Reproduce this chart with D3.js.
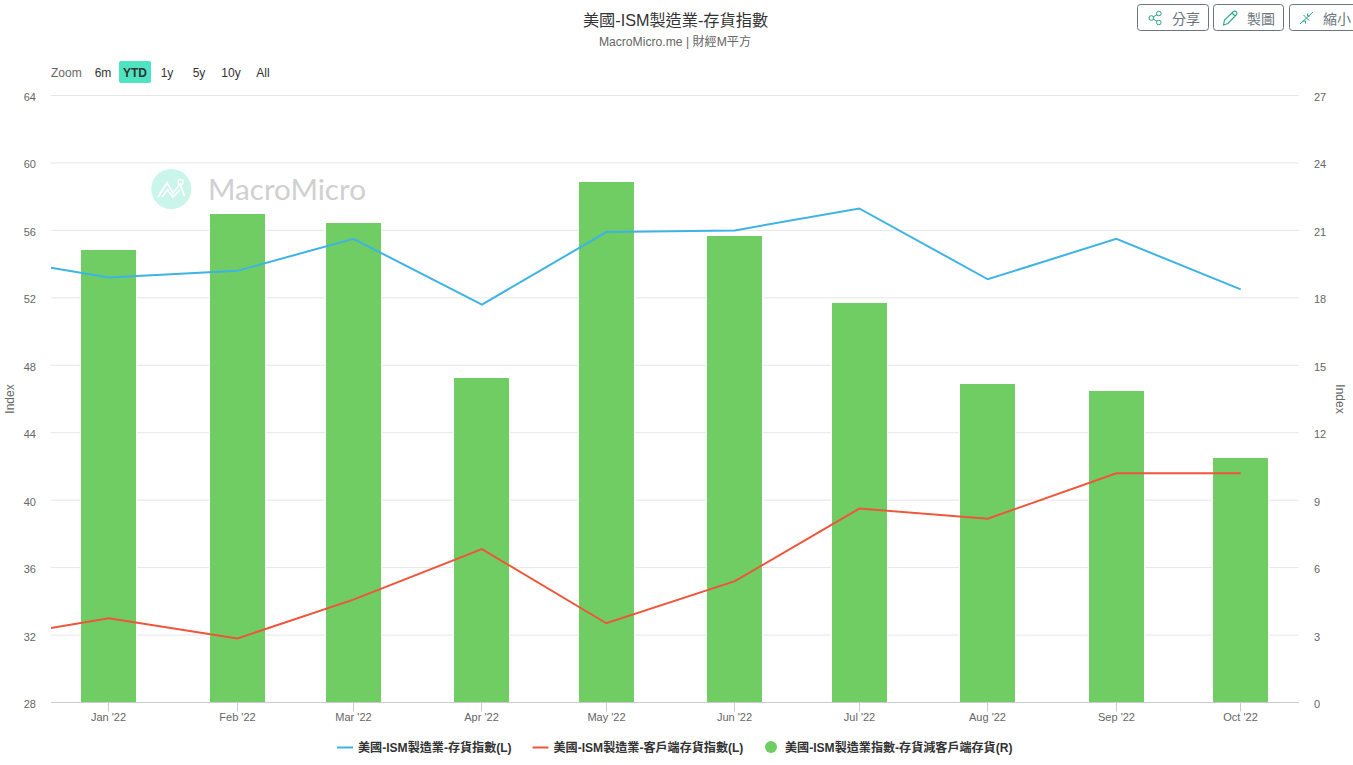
<!DOCTYPE html>
<html><head><meta charset="utf-8">
<script src="https://cdn.jsdelivr.net/npm/d3@7"></script>
<style>
html,body{margin:0;padding:0;background:#fff;overflow:hidden}
svg{display:block}
text{font-family:"Liberation Sans","Noto Sans CJK TC",sans-serif}
</style></head><body><svg id="c" width="1353" height="765"></svg>
<script>
const months = ["2021-12-01","2022-01-01","2022-02-01","2022-03-01","2022-04-01","2022-05-01","2022-06-01","2022-07-01","2022-08-01","2022-09-01","2022-10-01"];
const inventoryIndex = [54.5,53.2,53.6,55.5,51.6,55.9,56.0,57.3,53.1,55.5,52.5];
const customerIndex = [31.7,33.0,31.8,34.1,37.1,32.7,35.2,39.5,38.9,41.6,41.6];
const spread = [null,20.17,21.77,21.37,14.48,23.2,20.8,17.82,14.21,13.9,10.92];
const leftTicks = [28,32,36,40,44,48,52,56,60,64];
const rightTicks = [0,3,6,9,12,15,18,21,24,27];
const zoomLabels = ["6m","YTD","1y","5y","10y","All"];
const seriesNames = ["美國-ISM製造業-存貨指數(L)","美國-ISM製造業-客戶端存貨指數(L)","美國-ISM製造業指數-存貨減客戶端存貨(R)"];
const buttonLabels = ["分享","製圖","縮小"];
const title = "美國-ISM製造業-存貨指數";
const subtitle = "MacroMicro.me | 財經M平方";

const parse = d3.utcParse("%Y-%m-%d");
const dates = months.map(parse);
const svg = d3.select("#c");
const L = 51, R = 1299, T = 95.5, B = 702.5;
const DAY = 864e5;
const x = d3.scaleUtc().domain([new Date(+dates[1] - 13.94 * DAY), new Date(+dates[10] + 14.06 * DAY)]).range([L, R]);
const yL = d3.scaleLinear().domain([28, 64]).range([B, T]);
const yR = d3.scaleLinear().domain([0, 27]).range([B, T]);

// title
svg.append("text").attr("x", 675.5).attr("y", 26).attr("text-anchor", "middle").attr("font-size", 16.2).attr("fill", "#333").text(title);
svg.append("text").attr("x", 675).attr("y", 46).attr("text-anchor", "middle").attr("font-size", 12.15).attr("fill", "#666").text(subtitle);

// top buttons
const btnX = [1137.5, 1213.5, 1289.5], btnW = [71, 70, 71], btnT = [34.5, 33.5, 33.5];
const btn = svg.selectAll("g.btn").data(buttonLabels).join("g").attr("class", "btn")
  .attr("transform", (d, i) => `translate(${btnX[i]},4.5)`);
btn.append("rect").attr("width", (d, i) => btnW[i]).attr("height", 26).attr("rx", 3)
  .attr("fill", "#fff").attr("stroke", "#6c757d");
btn.append("text").attr("x", (d, i) => btnT[i]).attr("y", 19).attr("font-size", 14).attr("fill", "#6c757d").text(d => d);
const iconC = "#2aa58a";
const i0 = svg.append("g").attr("transform", `translate(${btnX[0]},4.5)`).attr("fill", "none").attr("stroke", iconC).attr("stroke-width", 1);
i0.append("path").attr("d", "M14 13.5L21.5 9M14 13.5L21.5 18");
[[13.8,13.5],[21.3,9],[21.3,18]].forEach(p => i0.append("circle").attr("cx", p[0]).attr("cy", p[1]).attr("r", 2.3).attr("fill", "#fff"));
svg.append("g").attr("transform", `translate(${btnX[1]},4.5)`).append("path")
  .attr("d", "M10 20.5L11 15.5L20 7Q21.5 6 23 7.5Q24 9 23 10L14.5 19Z M18.5 8.5L21.5 11.5")
  .attr("fill", "none").attr("stroke", iconC).attr("stroke-width", 1.1);
svg.append("g").attr("transform", `translate(${btnX[2]},4.5)`).append("path")
  .attr("d", "M10.5 19.5L23.5 7.5M14 10.5L19.5 16M13 16.5L16 16.5L16 19M18 9L18 11.5L20.5 11.5")
  .attr("fill", "none").attr("stroke", iconC).attr("stroke-width", 1);

// zoom selector
svg.append("text").attr("x", 51).attr("y", 77).attr("font-size", 12).attr("fill", "#666").text("Zoom");
const zoomX = [103, 135, 167, 199, 231, 263];
svg.append("rect").attr("x", 119).attr("y", 61).attr("width", 32).attr("height", 22).attr("rx", 2).attr("fill", "#50e3c2");
svg.selectAll("text.z").data(zoomLabels).join("text").attr("class", "z")
  .attr("x", (d, i) => zoomX[i]).attr("y", 77).attr("text-anchor", "middle").attr("font-size", 12)
  .attr("fill", "#333").attr("font-weight", d => d === "YTD" ? "bold" : "normal").text(d => d);

// watermark
const wm = svg.append("g");
wm.append("circle").attr("cx", 171.3).attr("cy", 189).attr("r", 20).attr("fill", "#c9f5ea");
wm.append("path").attr("d", "M158 197L167 183L173 193L180 184L184.5 196M162 197L167.5 190L173 197L179.5 190")
  .attr("fill", "none").attr("stroke", "#fff").attr("stroke-width", 1.8);
wm.append("circle").attr("cx", 180.5).attr("cy", 182).attr("r", 2.5).attr("fill", "none").attr("stroke", "#fff").attr("stroke-width", 1.5);
wm.append("text").attr("x", 208).attr("y", 199.5).attr("font-size", 29).attr("fill", "#d0d0d0")
  .style("font-family", "Lato,sans-serif").attr("textLength", 158).attr("lengthAdjust", "spacingAndGlyphs").text("MacroMicro");

// grid
svg.append("g").selectAll("line").data(leftTicks.slice(1)).join("line")
  .attr("x1", L).attr("x2", R).attr("y1", d => yL(d)).attr("y2", d => yL(d)).attr("stroke", "#e6e6e6");

// bars, with a thin white border that interrupts the grid lines
const barW = 55;
const barTop = v => Math.round(yR(v)) + 0.5;
svg.append("g").selectAll("rect").data(spread.map((v, i) => ({ v, d: dates[i] })).filter(o => o.v !== null)).join("rect")
  .attr("x", o => Math.round(x(o.d) - barW / 2) - 0.5).attr("width", barW + 1)
  .attr("y", o => barTop(o.v)).attr("height", o => yR(0) - barTop(o.v))
  .attr("fill", "#6fcd64").attr("stroke", "#fff").attr("stroke-width", 1);

// lines
svg.append("clipPath").attr("id", "plot").append("rect").attr("x", L).attr("y", T).attr("width", R - L).attr("height", B - T);
const line = d3.line().x((v, i) => x(dates[i])).y(v => yL(v));
const plot = svg.append("g").attr("clip-path", "url(#plot)");
plot.append("path").attr("d", line(inventoryIndex)).attr("fill", "none").attr("stroke", "#3eb3e4").attr("stroke-width", 2);
plot.append("path").attr("d", line(customerIndex)).attr("fill", "none").attr("stroke", "#f0553a").attr("stroke-width", 2);

// axes
const xAxis = d3.axisBottom(x).offset(0).tickValues(dates.slice(1)).tickFormat(d3.utcFormat("%b '%y")).tickSize(9).tickPadding(2);
const gx = svg.append("g").attr("transform", `translate(0,${B})`).call(xAxis);
gx.selectAll(".tick").attr("transform", d => `translate(${Math.floor(x(d)) + 0.5},0)`);
gx.select(".domain").attr("stroke", "#ccc").attr("d", `M${L},0H${R}`);
gx.selectAll(".tick line").attr("stroke", "#ccc");
gx.selectAll("text").attr("font-size", 11).attr("fill", "#666").style("font-family", "'Liberation Sans',sans-serif");

const gl = svg.append("g").attr("transform", "translate(36,0)").call(d3.axisLeft(yL).tickValues(leftTicks).tickSize(0).tickPadding(0));
gl.select(".domain").remove();
gl.selectAll("text").attr("font-size", 11).attr("fill", "#666").attr("dy", "0.45em").style("font-family", "'Liberation Sans',sans-serif");

const gr = svg.append("g").attr("transform", "translate(1314,0)").call(d3.axisRight(yR).tickValues(rightTicks).tickSize(0).tickPadding(0));
gr.select(".domain").remove();
gr.selectAll("text").attr("font-size", 11).attr("fill", "#666").attr("dy", "0.45em").style("font-family", "'Liberation Sans',sans-serif");

svg.append("text").attr("transform", "translate(14,399) rotate(-90)").attr("text-anchor", "middle").attr("font-size", 12).attr("fill", "#666").text("Index");
svg.append("text").attr("transform", "translate(1336,399) rotate(90)").attr("text-anchor", "middle").attr("font-size", 12).attr("fill", "#666").text("Index");

// legend
const legText = [358, 553.5, 785];
const leg = svg.selectAll("g.leg").data(seriesNames).join("g").attr("class", "leg");
leg.append("text").attr("x", (d, i) => legText[i]).attr("y", 752).attr("font-size", 12.08).attr("font-weight", "bold").attr("fill", "#333").text(d => d);
svg.append("line").attr("x1", 337).attr("x2", 353).attr("y1", 747.5).attr("y2", 747.5).attr("stroke", "#3eb3e4").attr("stroke-width", 2);
svg.append("line").attr("x1", 532.5).attr("x2", 548.5).attr("y1", 747.5).attr("y2", 747.5).attr("stroke", "#f0553a").attr("stroke-width", 2);
svg.append("circle").attr("cx", 771).attr("cy", 747).attr("r", 6).attr("fill", "#6fcd64");
</script></body></html>
